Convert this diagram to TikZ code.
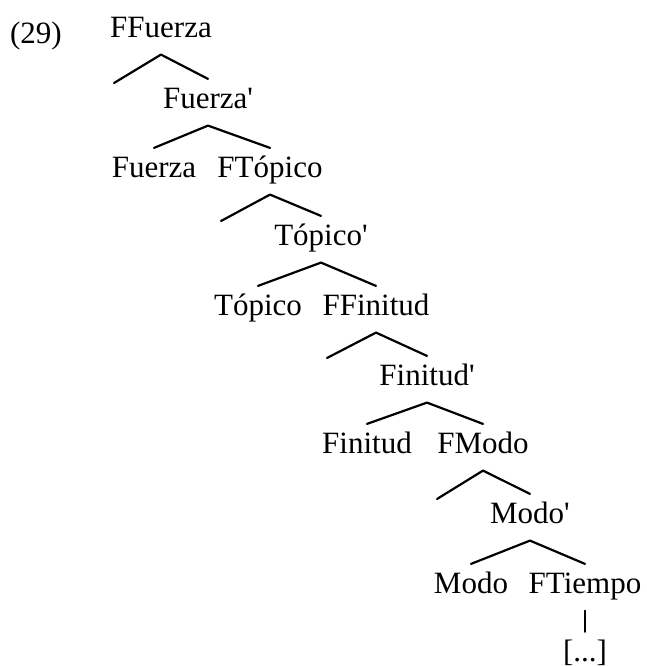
\documentclass[tikz,border=0pt]{standalone}
\usepackage{fontspec}
\setmainfont{Liberation Serif}[Ligatures=TeXOff]

\begin{document}
\begin{tikzpicture}[x=1pt, y=-1pt, line cap=round, line join=round, line width=2.2pt, font=\fontsize{31}{31}\selectfont]
	\tikzset{cat/.style={anchor=base, inner xsep=0pt, inner ysep=9.5pt, text height=18.5pt, text depth=7pt}}
	\useasboundingbox (0,0) rectangle (647,667);
	% label of the example
	\node[cat] (num) at (36,43) {(29)};
	% categories, one row after the other
	\node[cat] (ffuerza) at (161,37) {FFuerza};
	\coordinate (specF) at (114,83);
	\node[cat] (fuerzab) at (208,108) {Fuerza'};
	\node[cat] (fuerza) at (154,177) {Fuerza};
	\node[cat] (ftop) at (270,177) {FTópico};
	\coordinate (specT) at (221,221);
	\node[cat] (topb) at (321,245) {Tópico'};
	\node[cat] (top) at (258,315) {Tópico};
	\node[cat] (ffin) at (376,315) {FFinitud};
	\coordinate (specFin) at (327,358);
	\node[cat] (finb) at (427,385) {Finitud'};
	\node[cat] (fin) at (367,453) {Finitud};
	\node[cat] (fmodo) at (483,453) {FModo};
	\coordinate (specM) at (437,499);
	\node[cat] (modob) at (530,523) {Modo'};
	\node[cat] (modo) at (471,593) {Modo};
	\node[cat] (ftiempo) at (585,593) {FTiempo};
	\node[cat] (resto) at (585,661) {[...]};
	% branches
	\draw (specF) -- (ffuerza.south) -- (fuerzab.north);
	\draw (fuerza.north) -- (fuerzab.south) -- (ftop.north);
	\draw (specT) -- (ftop.south) -- (topb.north);
	\draw (top.north) -- (topb.south) -- (ffin.north);
	\draw (specFin) -- (ffin.south) -- (finb.north);
	\draw (fin.north) -- (finb.south) -- (fmodo.north);
	\draw (specM) -- (fmodo.south) -- (modob.north);
	\draw (modo.north) -- (modob.south) -- (ftiempo.north);
	\draw (ftiempo.south) -- (resto.north);
\end{tikzpicture}
\end{document}
